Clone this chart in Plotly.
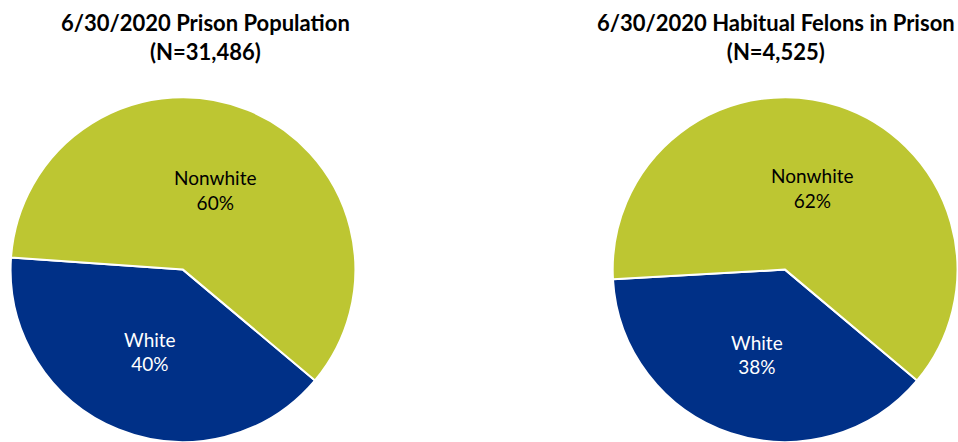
import plotly.graph_objects as go

labels = ["White", "Nonwhite"]
prison_pct = [40, 60]
habitual_pct = [38, 62]
titles = ["6/30/2020 Prison Population<br>(N=31,486)",
          "6/30/2020 Habitual Felons in Prison<br>(N=4,525)"]

colors = ["#003087", "#BDC632"]
font_family = "Lato, 'Noto Sans', sans-serif"

fig = go.Figure()
common = dict(
    labels=labels,
    sort=False,
    direction="clockwise",
    rotation=130,
    marker=dict(colors=colors, line=dict(color="white", width=2)),
    texttemplate="%{label}<br>%{percent:.0%}",
    textposition="inside",
    insidetextorientation="horizontal",
    insidetextfont=dict(family=font_family, size=19, color=["white", "black"]),
    showlegend=False,
    hoverinfo="label+percent",
)
fig.add_trace(go.Pie(values=prison_pct, domain=dict(x=[0.0104, 0.3716], y=[0.0, 0.78]), **common))
fig.add_trace(go.Pie(values=habitual_pct, domain=dict(x=[0.639, 1.0], y=[0.0, 0.78]), **common))

for x, t in zip([0.215, 0.81], titles):
    bold = "<b>" + t.replace("<br>", "</b><br><b>") + "</b>"
    fig.add_annotation(text=bold, x=x, y=1 - 7 / 442, xref="paper", yref="paper",
                       xanchor="center", yanchor="top", showarrow=False,
                       font=dict(family=font_family, size=22, color="black"),
                       align="center")

fig.update_layout(
    width=958, height=442,
    margin=dict(l=0, r=0, t=0, b=0),
    paper_bgcolor="white", plot_bgcolor="white",
)
fig.write_html("out.html", config={"displayModeBar": False},
               post_script="document.body.style.margin='0';")
